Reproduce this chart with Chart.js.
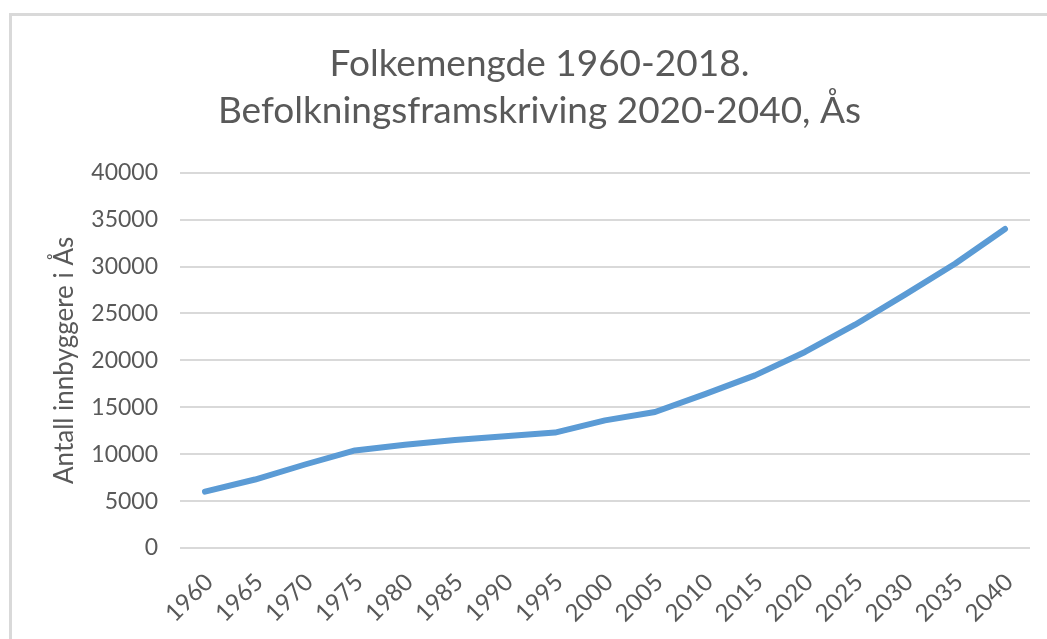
<!DOCTYPE html>
<html>
<head>
<meta charset="utf-8">
<script src="https://cdn.jsdelivr.net/npm/chart.js@4/dist/chart.umd.min.js"></script>
<style>
  html, body { margin: 0; padding: 0; background: #fff; }
  #wrap { position: relative; width: 1047px; height: 639px; overflow: hidden; }
  #frame { position: absolute; left: 9px; top: 13px; width: 1100px; height: 700px;
           border-left: 3px solid #d9d9d9; border-top: 3px solid #d9d9d9; }
  canvas { position: absolute; left: 0; top: 0; }
</style>
</head>
<body>
<div id="wrap">
  <div id="frame"></div>
  <canvas id="chart" width="1047" height="639"></canvas>
</div>
<script>
const years = ["1960", "1965", "1970", "1975", "1980", "1985", "1990", "1995", "2000",
               "2005", "2010", "2015", "2020", "2025", "2030", "2035", "2040"];
const population = [6000, 7300, 8900, 10400, 11000, 11500, 11900, 12300, 13600,
                    14500, 16400, 18400, 20900, 23800, 27000, 30300, 34000];
const titleLines = ["Folkemengde 1960-2018.", "Befolkningsframskriving 2020-2040, Ås"];
const yTitle = "Antall innbyggere i Ås";

const textColor = "#595959";
const gridColor = "#d9d9d9";

new Chart(document.getElementById("chart"), {
  type: "line",
  data: {
    labels: years,
    datasets: [{
      label: "Folkemengde",
      data: population,
      borderColor: "#5b9bd5",
      borderWidth: 6,
      borderCapStyle: "round",
      borderJoinStyle: "round",
      pointRadius: 0,
      fill: false,
      tension: 0
    }]
  },
  options: {
    responsive: false,
    animation: false,
    layout: { padding: { left: 49, right: 17, top: 16, bottom: 0 } },
    plugins: {
      legend: { display: false },
      tooltip: { enabled: false },
      title: {
        display: true,
        text: titleLines,
        color: textColor,
        font: { family: "Lato", size: 37, weight: "normal", lineHeight: 1.28 },
        padding: { top: 24, bottom: 38 }
      }
    },
    scales: {
      x: {
        offset: true,
        grid: { display: false },
        border: { display: false },
        ticks: {
          color: textColor,
          font: { family: "Lato", size: 24 },
          maxRotation: 45,
          minRotation: 45,
          autoSkip: false,
          padding: 12,
          labelOffset: 4
        },
        afterFit: (scale) => { scale.height = 91; }
      },
      y: {
        min: 0,
        max: 40000,
        ticks: {
          stepSize: 5000,
          color: textColor,
          font: { family: "Lato", size: 23 },
          padding: 22,
          callback: (v) => String(v)
        },
        grid: { color: gridColor, lineWidth: 2, drawTicks: false },
        border: { display: false },
        title: {
          display: true,
          text: yTitle,
          color: textColor,
          font: { family: "Lato", size: 26 },
          padding: 0
        },
        afterFit: (scale) => { scale.width = 131; }
      }
    }
  }
});
</script>
</body>
</html>
